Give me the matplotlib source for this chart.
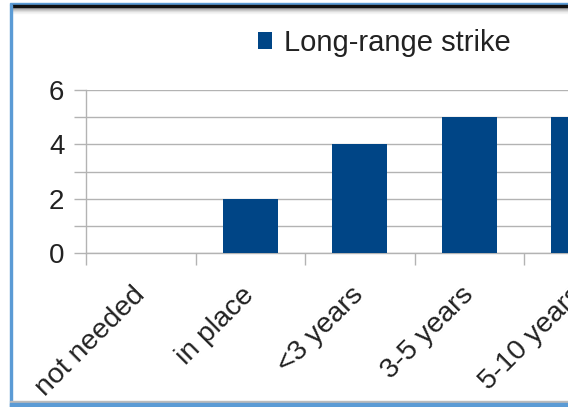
import matplotlib
matplotlib.use("Agg")
import matplotlib.pyplot as plt
import matplotlib.transforms as mtransforms
from matplotlib.patches import Rectangle
import numpy as np

categories = ["not needed", "in place", "<3 years", "3-5 years", "5-10 years"]
values = [0, 2, 4, 5, 5]
series_name = "Long-range strike"
yticks_major = [0, 2, 4, 6]

plt.rcParams['font.family'] = ['Liberation Sans', 'DejaVu Sans']

W, H = 568, 407
fig = plt.figure(figsize=(W / 100, H / 100), dpi=100)

def fx(px):
    return px / W

def fy(py):
    return 1 - py / H

ax_left, ax_top, ax_bottom = 86, 90, 253
unit_w = 109.5
ax_w = unit_w * len(categories)
ax = fig.add_axes([fx(ax_left), fy(ax_bottom), ax_w / W, (ax_bottom - ax_top) / H])

x = np.arange(len(categories))
bars = ax.bar(x, values, width=0.5, color="#004586", label=series_name, zorder=3)
ax.set_xlim(-0.5, len(categories) - 0.5)
ax.set_ylim(0, 6)

grid_c = "#b3b3b3"
ax.set_yticks(np.arange(0, 7, 1))
ax.set_yticklabels([str(v) if v in yticks_major else "" for v in range(0, 7)])
ax.yaxis.grid(True, color=grid_c, linewidth=1, zorder=0)
ax.set_xticks(np.arange(-0.5, len(categories), 1))
ax.set_xticklabels([])
for s in ["top", "right"]:
    ax.spines[s].set_visible(False)
for s in ["left", "bottom"]:
    ax.spines[s].set_color(grid_c)
    ax.spines[s].set_linewidth(1)
ax.tick_params(axis="both", direction="out", length=8.5, width=1, color=grid_c,
               labelsize=20, labelcolor="#222222")
ax.tick_params(axis="y", pad=7)

trans = ax.get_xaxis_transform()
for i, c in enumerate(categories):
    off = mtransforms.ScaledTranslation(-9 / 100, -29 / 100, fig.dpi_scale_trans)
    ax.text(i, 0, c, rotation=45, rotation_mode="anchor",
            ha="right", va="top", fontsize=20.5, color="#222222",
            transform=trans + off, clip_on=False)

fig.legend(handles=[bars], labels=[series_name], loc="center",
           bbox_to_anchor=(fx(384), fy(43)), frameon=False, fontsize=21,
           handlelength=0.5, handleheight=0.5, handletextpad=0.4,
           labelcolor="#222222")

# frame decorations
fig.patches.append(Rectangle((fx(10), fy(5)), 1, 2 / H, transform=fig.transFigure,
                             color="#5b9bd5", zorder=10))
fig.patches.append(Rectangle((fx(12), fy(7)), 1, 2 / H, transform=fig.transFigure,
                             color="#111111", zorder=10))
for k in range(6):
    g = 0.55 + k * 0.08
    fig.patches.append(Rectangle((fx(12), fy(8 + k)), 1, 1 / H, transform=fig.transFigure,
                                 color=(g, g, g), alpha=0.6, zorder=9))
fig.patches.append(Rectangle((fx(10), fy(407)), 2 / W, 402 / H, transform=fig.transFigure,
                             color="#5b9bd5", zorder=10))
fig.patches.append(Rectangle((fx(10), fy(402)), 1, 1 / H, transform=fig.transFigure,
                             color="#bbbbbb", zorder=10))
fig.patches.append(Rectangle((fx(10), fy(407)), 1, 4 / H, transform=fig.transFigure,
                             color="#5b9bd5", zorder=10))

fig.savefig("out.png", dpi=100)
